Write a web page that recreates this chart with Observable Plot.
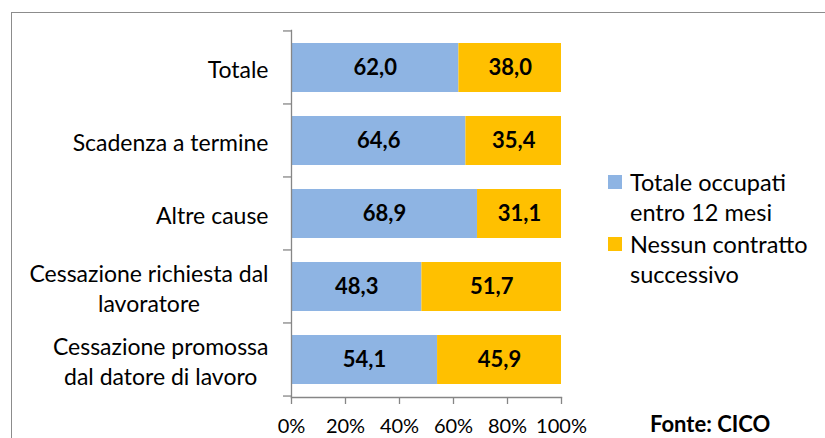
<!DOCTYPE html>
<html><head><meta charset="utf-8">
<script src="https://cdn.jsdelivr.net/npm/d3@7"></script>
<script src="https://cdn.jsdelivr.net/npm/@observablehq/plot@0.6"></script>
<style>
body{margin:0;background:#fff;font-family:Lato, sans-serif;}
#wrap{position:relative;width:825px;height:438px;overflow:hidden;background:#fff;}
#frame{position:absolute;left:11px;top:12px;width:900px;height:500px;border-left:1.5px solid #8c8c8c;border-top:1.5px solid #8c8c8c;box-sizing:border-box;}
#chart{position:absolute;left:0;top:0;}
#legend{position:absolute;left:608px;top:167px;font-size:23.5px;line-height:30px;color:#000;}
.item{position:relative;padding-left:22px;margin-bottom:2px;}
.sw{position:absolute;left:0;top:8px;width:14px;height:14px;}
#source{position:absolute;left:650px;top:410px;font-size:22px;font-weight:bold;color:#000;}
</style></head><body>
<div id="wrap"><div id="frame"></div><div id="chart"></div><div id="legend"></div><div id="source"></div></div>
<script>
const categories = ["Totale", "Scadenza a termine", "Altre cause", "Cessazione richiesta dal\nlavoratore", "Cessazione promossa\ndal datore di lavoro"];
const series = ["Totale occupati entro 12 mesi", "Nessun contratto successivo"];
const legendLines = [["Totale occupati", "entro 12 mesi"], ["Nessun contratto", "successivo"]];
const occupati = [62.0, 64.6, 68.9, 48.3, 54.1];
const nessun = [38.0, 35.4, 31.1, 51.7, 45.9];
const xTicks = [0, 20, 40, 60, 80, 100];
const colors = ["#8EB4E3", "#FFC000"];
const sourceText = "Fonte: CICO";

const data = categories.flatMap((c, i) => [
  {cat: c, serie: series[0], value: occupati[i]},
  {cat: c, serie: series[1], value: nessun[i]}
]);
const fmt = v => d3.format(".1f")(v).replace(".", ",");

const chart = Plot.plot({
  width: 825, height: 438,
  marginLeft: 291, marginRight: 264, marginTop: 30, marginBottom: 41,
  style: {fontFamily: "Lato, sans-serif", fontSize: "20px", color: "#000", background: "transparent", overflow: "visible"},
  x: {domain: [0, 100], label: null},
  y: {domain: categories, paddingInner: 0.33, paddingOuter: 0.165, label: null},
  color: {domain: series, range: colors},
  marks: [
    Plot.barX(data, Plot.stackX({x: "value", y: "cat", fill: "serie"})),
    Plot.text(data, Plot.stackX({x: "value", y: "cat", z: "serie", text: d => fmt(d.value), fontWeight: "bold", fontSize: 22, fill: "#000"})),
    Plot.frame({anchor: "left", stroke: "#868686", strokeWidth: 1.3}),
    Plot.frame({anchor: "bottom", stroke: "#868686", strokeWidth: 1.3}),
    Plot.axisX({ticks: xTicks, tickFormat: d => d + "%", tickSize: 7, tickPadding: 14, stroke: "#868686", strokeWidth: 1.3, fill: "#000", fontSize: 20}),
    Plot.axisY({tickSize: 0, tickPadding: 23, lineHeight: 1.3, fill: "#000", fontSize: 23})
  ]
});
document.getElementById("chart").appendChild(chart);

// category boundary ticks derived from the band scale
const y = chart.scale("y");
const step = y.step, pad = y.paddingInner * step / 2;
const bounds = categories.map(c => y.apply(c) - pad).concat([y.apply(categories[categories.length - 1]) + y.bandwidth + pad]);
const x0 = chart.scale("x").apply(0);
d3.select(chart).append("g").selectAll("line").data(bounds).join("line")
  .attr("x1", x0 - 8).attr("x2", x0).attr("y1", d => d).attr("y2", d => d)
  .attr("stroke", "#868686").attr("stroke-width", 1.3);

// center multi-line labels relative to each other
d3.select(chart).selectAll('g[aria-label="y-axis tick label"] text').each(function() {
  const tspans = this.querySelectorAll("tspan");
  if (tspans.length < 2) return;
  const w = Math.max(...Array.from(tspans, t => t.getComputedTextLength()));
  this.setAttribute("text-anchor", "middle");
  tspans.forEach(t => t.setAttribute("x", (+t.getAttribute("x") || 0) - w / 2));
});

const legend = d3.select("#legend");
series.forEach((s, i) => {
  const it = legend.append("div").attr("class", "item");
  it.append("div").attr("class", "sw").style("background", colors[i]);
  it.append("div").html(legendLines[i].join("<br>"));
});
document.getElementById("source").textContent = sourceText;
</script>
</body></html>
